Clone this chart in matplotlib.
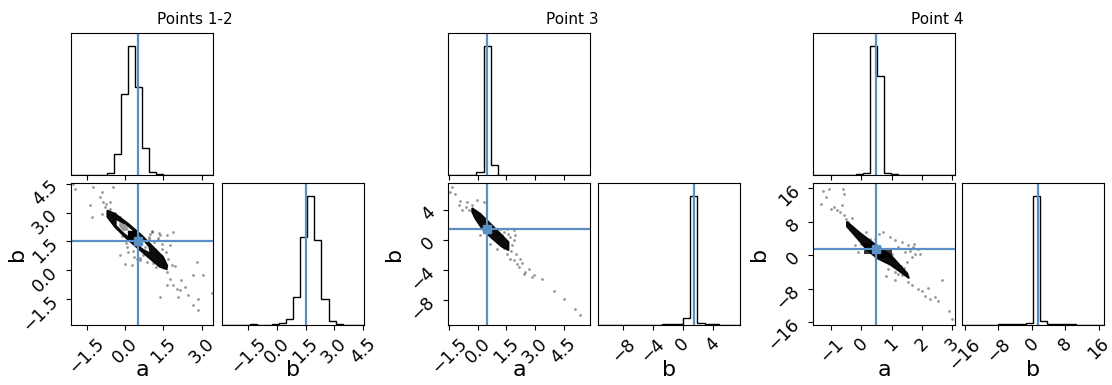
import numpy as np
import matplotlib.pyplot as plt
from matplotlib.patches import Polygon

TRUTH = "#5b90c4"
TRUTH_A, TRUTH_B = 0.5, 1.5

# --- Points 1-2 ---
p12_a_range = (-2.11, 3.45)
p12_b_range = (-2.86, 4.55)
p12_a_ticks = [-1.5, 0.0, 1.5, 3.0]
p12_b_ticks = [-1.5, 0.0, 1.5, 3.0, 4.5]
p12_a_hist = [1, 0, 0, 0, 0, 13, 160, 630, 1000, 680, 210, 26, 8, 0, 0, 0, 0, 0, 0, 1]
p12_b_hist = [1, 0, 0, 0, 5, 0, 0, 5, 18, 50, 220, 680, 1000, 660, 200, 28, 10, 0, 0, 1]
p12_pts_a = [-1.95, -1.24, -0.45, -0.91, -0.97, -0.84, -1.37, -0.78, -1.30, -0.91, -0.45, -0.58,
             1.05, 1.37, 1.64, 1.90, 1.31, 1.44, 1.77, 1.18,
             0.07, 0.13, -0.19, 0.00, 0.27, 0.46, 0.59, 0.85,
             1.64, 1.77, 1.90, 2.03, 2.16, 2.35, 2.48, 2.87, 2.81, 2.68, 2.87, 2.68, 1.37, 2.09, 3.07, 1.64,
             -0.60, -0.50, -0.20, 0.90, 1.20, 1.40, 1.50, 1.70, 1.10, 0.70, 0.30, -0.10, 1.00, 1.30, 0.80,
             1.55, 1.25, 0.95, 2.20, 1.95, 3.40, -2.05,
             -0.75, -0.65, -0.40, 0.95, 1.15, 1.45, 1.60, 1.85, 1.20, 0.60, 0.35, 0.05, 1.35, 1.05]
p12_pts_b = [4.22, 4.34, 4.34, 4.08, 3.82, 3.56, 3.38, 3.30, 2.78, 2.95, 2.86, 3.56,
             1.99, 1.82, 1.82, 1.99, 1.56, 1.39, 1.30, 1.12,
             1.21, 0.95, 0.78, 0.34, 0.25, 0.60, 0.52, 0.43,
             -0.09, -0.44, -0.79, -0.96, -1.05, -0.88, -1.31, -1.48, 0.43, -0.27, -2.09, -1.83, -1.40, -1.40, -0.27, -0.79,
             3.20, 2.90, 2.80, 1.50, 1.00, 0.80, 0.30, 0.60, 0.40, 0.80, 1.00, 1.80, 1.90, 1.70, 1.20,
             0.10, 0.70, 1.75, -0.50, 0.20, -1.20, 4.50,
             3.45, 3.05, 3.00, 1.65, 1.45, 1.10, 0.95, 0.25, 0.15, 0.65, 0.70, 1.40, 1.95, 2.05]
p12_core_a = [-0.69, -0.39, 0.13, 0.66, 1.11, 1.50, 1.66, 1.64, 1.37, 0.98, 0.53, 0.07, -0.39, -0.69]
p12_core_b = [3.12, 2.95, 2.43, 1.82, 1.21, 0.69, 0.25, 0.05, 0.17, 0.60, 1.12, 1.65, 2.25, 2.78]
p12_inner_a = [-0.32, 0.13, 0.59, 0.92, 0.96, 0.72, 0.33, -0.06, -0.32]
p12_inner_b = [2.60, 2.25, 1.73, 1.21, 0.95, 1.12, 1.56, 1.99, 2.34]
p12_gray_a = [-0.22, 0.04, 0.17, -0.06, -0.22]
p12_gray_b = [2.48, 2.38, 2.08, 2.03, 2.25]
p12_peak = (0.27, 1.85)

# --- Point 3 ---
p3_a_range = (-1.55, 5.88)
p3_b_range = (-11.37, 7.69)
p3_a_ticks = [-1.5, 0.0, 1.5, 3.0, 4.5]
p3_b_ticks = [-8, -4, 0, 4]
p3_a_hist = [1, 0, 0, 0, 26, 1000, 78, 2, 1, 1, 1, 1, 0, 0, 0, 0, 0, 0, 0, 1]
p3_b_hist = [1, 0, 0, 0, 0, 0, 0, 0, 0, 8, 8, 8, 57, 1000, 13, 5, 5, 0, 0, 1]
p3_pts_a = [-1.43, -1.17, -0.99, -0.82, -0.56, -0.29, -0.03, 0.32, 0.14, -1.34,
            0.84, 1.19, 1.54, 1.89, 1.97, 1.71, 1.36, 1.10, 1.89,
            1.54, 1.71, 1.89, 2.06, 2.23, 2.15, 2.50, 2.67, 2.85, 2.93, 3.37, 2.41,
            3.98, 4.50, 5.11, 5.37,
            0.14, 0.67, 1.01, 1.40, 1.75, 0.95, 1.25, -0.60, -0.90,
            -0.45, -0.20, 0.05, 1.05, 1.30, 1.60, 1.80, 2.00, 2.30, 0.40, 0.75]
p3_pts_b = [6.48, 6.26, 4.69, 4.02, 5.14, 4.69, 5.36, 5.14, 3.57, 7.15,
            1.34, 1.56, 1.56, 1.34, 0.66, 0.44, 1.11, -0.01, -0.01,
            -1.80, -2.47, -2.69, -3.14, -2.47, -3.59, -4.26, -3.81, -4.93, -4.71, -5.15, -4.48,
            -6.85, -7.84, -9.27, -10.08,
            0.66, -0.45, -1.13, -1.00, -1.50, 0.90, 0.20, 4.50, 5.30,
            4.10, 3.90, 3.20, 1.00, 0.70, 0.90, -0.60, -1.90, -3.00, 2.60, 1.90]
p3_core_a = [-0.29, 0.14, 0.67, 1.19, 1.62, 1.62, 1.28, 0.67, 0.23, -0.12, -0.29]
p3_core_b = [4.33, 3.57, 2.23, 0.89, -0.23, -1.35, -0.90, 0.44, 1.56, 2.90, 3.80]

# --- Point 4 ---
p4_a_range = (-1.60, 3.10)
p4_b_range = (-16.7, 17.3)
p4_a_ticks = [-1, 0, 1, 2, 3]
p4_b_ticks = [-16, -8, 0, 8, 16]
p4_a_hist = [1, 0, 0, 0, 0, 0, 5, 16, 1000, 770, 16, 5, 0, 0, 0, 0, 0, 0, 0, 1]
p4_b_hist = [1, 0, 0, 0, 0, 5, 5, 5, 5, 16, 1000, 34, 8, 8, 8, 8, 0, 0, 0, 1]
p4_pts_a = [-1.28, -1.17, -0.61, -0.56, -1.33, -0.89, -0.72, -0.56, -0.44, -1.00, -1.06,
            0.72, 0.94, 1.11, 1.33, 1.55, 1.72, 1.89, 1.94, 1.78, 1.44, 1.22, 1.00, 1.67, 1.50,
            -0.22, 0.00, -0.11,
            0.89, 1.11, 1.33, 1.55, 1.67, 1.89, 2.00, 2.11, 2.28, 2.44, 2.67, 2.55, 2.89, 3.00, 1.11,
            -0.30, -0.65, 0.30, 0.60, 1.30, 1.00, 0.80,
            -0.80, -0.50, -0.25, 0.45, 1.60, 1.75, 1.40, 1.20, 2.20, 0.15]
p4_pts_b = [15.30, 13.94, 15.78, 14.74, 12.34, 11.54, 10.35, 9.55, 7.95, 11.14, 15.94,
            5.55, 4.35, 3.55, 3.15, 2.35, 1.95, 1.55, 0.35, 0.35, 0.75, 1.95, 0.35, -0.45, -1.65,
            2.35, 2.75, 0.75,
            -3.24, -4.04, -4.84, -6.44, -7.24, -8.04, -8.44, -9.64, -10.44, -10.04, -6.04, -10.84, -13.24, -15.24, -6.04,
            9.00, 12.00, 4.00, 5.00, -2.50, -1.00, -5.00,
            10.80, 8.60, 6.40, 3.80, 0.90, 2.80, -3.00, -4.60, -7.80, 5.60]
p4_core_a = [-0.48, -0.03, 0.41, 0.97, 1.52, 1.58, 0.97, 0.52, 0.19, -0.14, -0.48]
p4_core_b = [8.06, 5.28, 2.88, 0.07, -4.32, -5.52, -2.33, -0.72, 1.27, 4.08, 6.86]
p4_blob_a = [0.10, 0.40, 0.40, 1.00, 1.00, 0.50, 0.50, 0.10]
p4_blob_b = [3.00, 3.00, 1.30, 1.30, -0.70, -0.70, 0.20, 0.20]

W, H = 1112, 385
fig = plt.figure(figsize=(W / 100, H / 100), dpi=100)


def box(x0, x1, y0, y1):
    # pixel box (top-left origin) -> figure fraction
    return [x0 / W, 1 - y1 / H, (x1 - x0) / W, (y1 - y0) / H]


def hist_step(ax, counts, rng):
    edges = np.linspace(rng[0], rng[1], len(counts) + 1)
    ax.stairs(counts, edges, color="k", lw=1.0)
    ax.set_xlim(rng)
    ax.set_ylim(0, 1.1 * max(counts))
    ax.set_yticks([])


def corner(xl, xr, title, title_x, a_rng, b_rng, a_hist, b_hist, pts_a, pts_b,
           core_a, core_b, a_ticks, b_ticks):
    ax_top = fig.add_axes(box(xl, xl + 142, 33, 175))
    ax_2d = fig.add_axes(box(xl, xl + 142, 183, 325))
    ax_b = fig.add_axes(box(xr, xr + 142, 183, 325))

    # marginal of a
    hist_step(ax_top, a_hist, a_rng)
    ax_top.set_xticks(a_ticks)
    ax_top.set_xticklabels([])
    ax_top.axvline(TRUTH_A, color=TRUTH, lw=1.6)

    # joint a-b samples
    ax_2d.plot(pts_a, pts_b, "o", ms=2.0, mec="none", color="k", alpha=0.4)
    ax_2d.add_patch(Polygon(np.column_stack([core_a, core_b]), closed=True,
                            fc="k", ec="k", lw=1.2, alpha=0.95))
    ax_2d.set_xlim(a_rng)
    ax_2d.set_ylim(b_rng)
    ax_2d.set_xticks(a_ticks)
    ax_2d.set_yticks(b_ticks)
    ax_2d.set_xlabel("a", fontsize=16)
    ax_2d.set_ylabel("b", fontsize=16)
    ax_2d.xaxis.set_label_coords(0.5, -0.25)
    ax_2d.yaxis.set_label_coords(-0.31, 0.5)

    # marginal of b
    hist_step(ax_b, b_hist, b_rng)
    ax_b.set_xticks(b_ticks)
    ax_b.axvline(TRUTH_B, color=TRUTH, lw=1.6)
    ax_b.set_xlabel("b", fontsize=16)
    ax_b.xaxis.set_label_coords(0.5, -0.25)

    for ax in (ax_2d, ax_b):
        ax.tick_params(labelsize=12.5)
        for lab in ax.get_xticklabels():
            lab.set_rotation(45)
    for lab in ax_2d.get_yticklabels():
        lab.set_rotation(45)

    fig.text(title_x / W, 1 - 20 / H, title, ha="center", va="center", fontsize=11)
    return ax_2d


def truth_cross(ax):
    ax.axvline(TRUTH_A, color=TRUTH, lw=1.6)
    ax.axhline(TRUTH_B, color=TRUTH, lw=1.6)
    ax.plot(TRUTH_A, TRUTH_B, "s", color=TRUTH, ms=6)


ax1 = corner(71, 222, "Points 1-2", 195, p12_a_range, p12_b_range, p12_a_hist, p12_b_hist,
             p12_pts_a, p12_pts_b, p12_core_a, p12_core_b, p12_a_ticks, p12_b_ticks)
ax1.add_patch(Polygon(np.column_stack([p12_inner_a, p12_inner_b]), closed=True, fc="white", ec="none"))
ax1.add_patch(Polygon(np.column_stack([p12_gray_a, p12_gray_b]), closed=True, fc="#9a9a9a", ec="none"))
ax1.plot(*p12_peak, "s", color="k", ms=6)
truth_cross(ax1)

ax2 = corner(448, 598, "Point 3", 572, p3_a_range, p3_b_range, p3_a_hist, p3_b_hist,
             p3_pts_a, p3_pts_b, p3_core_a, p3_core_b, p3_a_ticks, p3_b_ticks)
truth_cross(ax2)

ax3 = corner(813, 962, "Point 4", 937, p4_a_range, p4_b_range, p4_a_hist, p4_b_hist,
             p4_pts_a, p4_pts_b, p4_core_a, p4_core_b, p4_a_ticks, p4_b_ticks)
ax3.add_patch(Polygon(np.column_stack([p4_blob_a, p4_blob_b]), closed=True, fc="k", ec="none", alpha=0.8))
truth_cross(ax3)

fig.savefig("out.png", dpi=100)
